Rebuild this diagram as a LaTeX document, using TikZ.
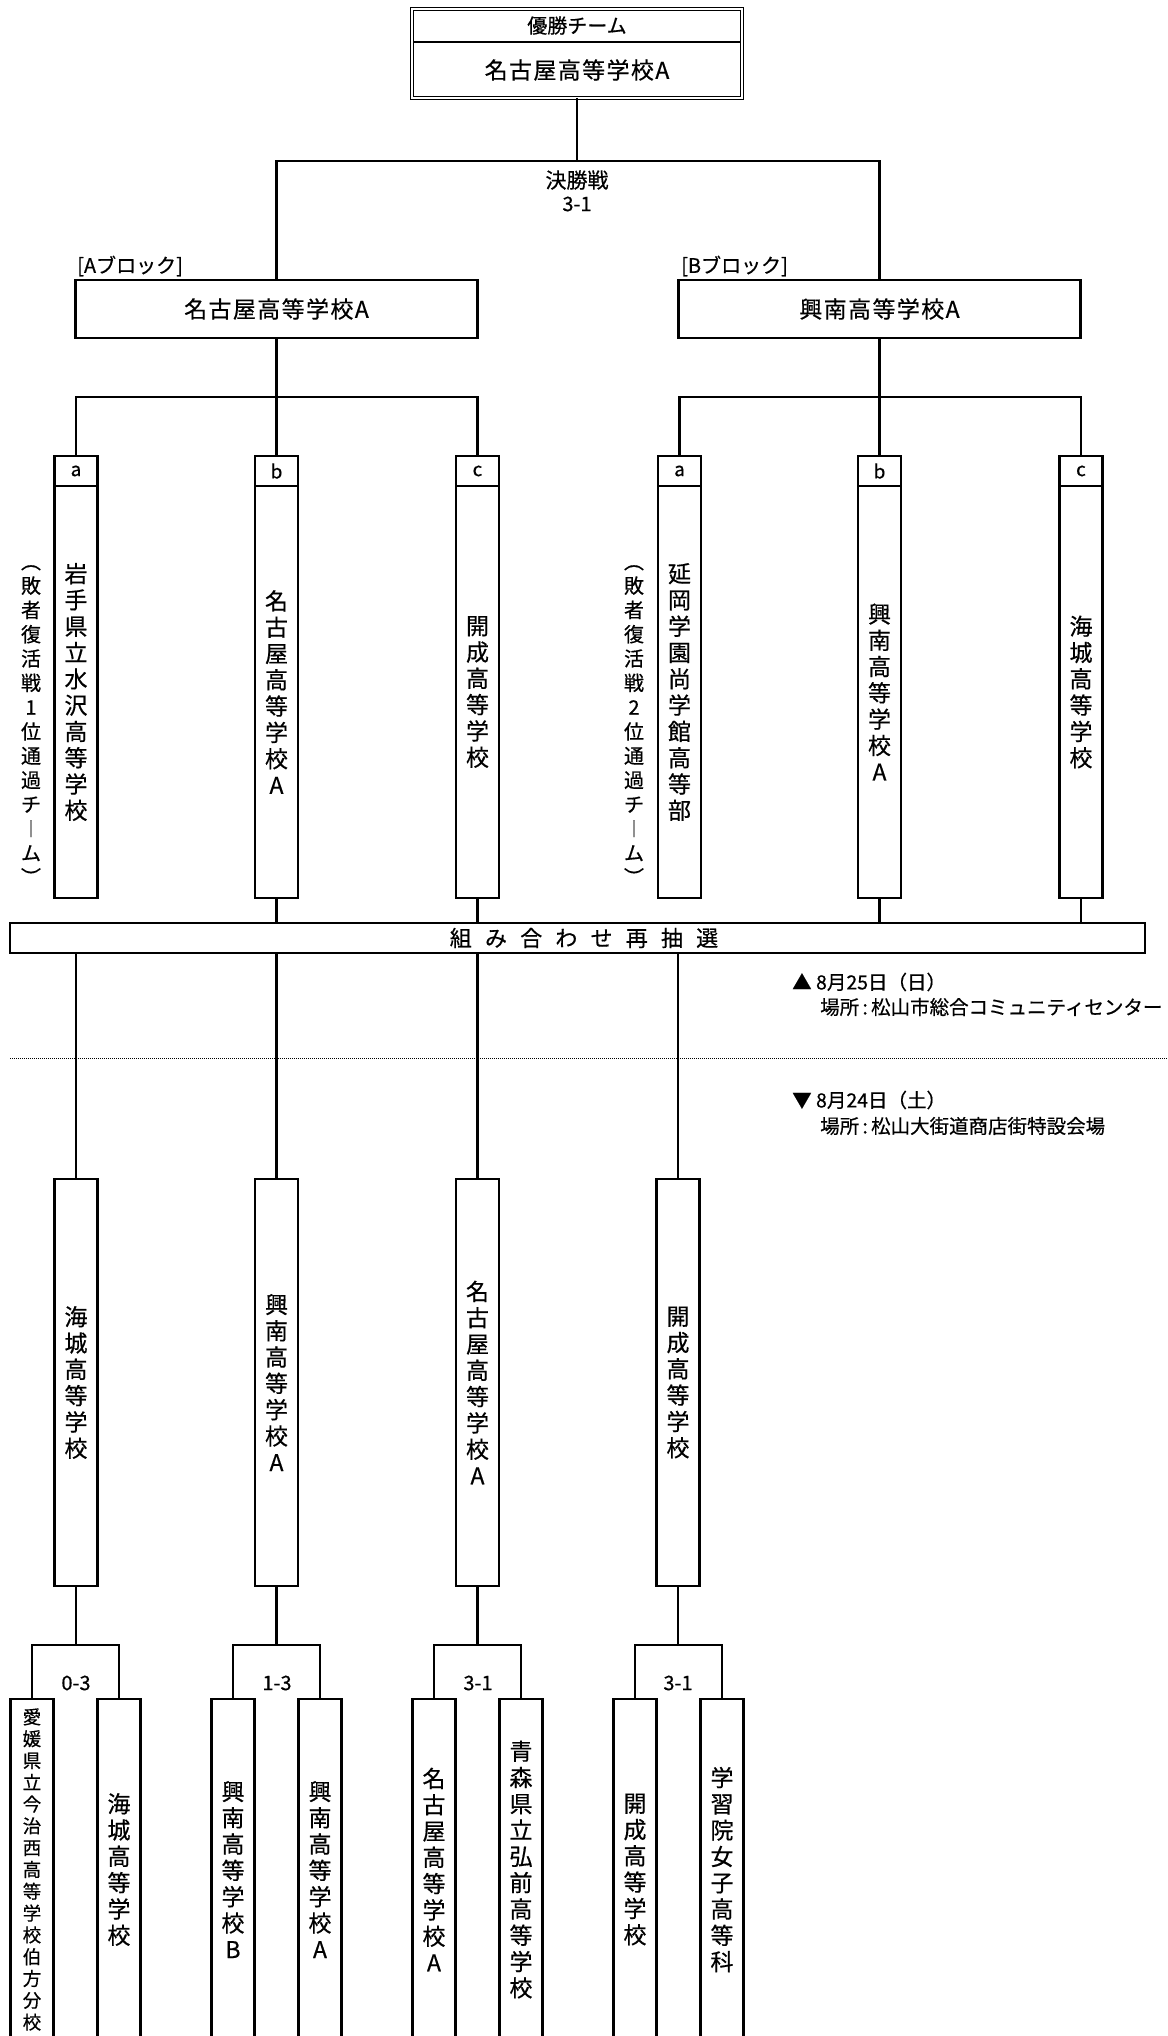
\documentclass[tikz,border=0pt]{standalone}
\usepackage{fontspec}
\setmainfont{Noto Sans CJK JP}[FakeBold=0.5]
\usetikzlibrary{positioning}
\tikzset {
  bracket path/.style = {
    draw = black,
    line width = 2.7pt
  },
  % dotted line between the two days
  day line/.style = {
    draw = black,
    line width = 1pt,
    dash pattern = on 1pt off 1pt
  },
  % double frame of the winner
  champ frame/.style = {
    draw = black,
    line width = 1.4pt,
    double = white,
    double distance = 2pt
  }
}
\tikzset {
  team node/.style = {
    draw = black,
    line width = 2.7pt,
    rectangle,
    inner sep = 0,
    outer sep = 0
  },
  champ head/.style = {
    rectangle,
    inner sep = 0,
    outer sep = 0,
    minimum width = 330pt,
    minimum height = 33pt,
    font = \fontsize{20}{24}\selectfont
  },
  champ name/.style = {
    champ head,
    minimum height = 56pt,
    font = \fontsize{23}{27}\selectfont\addfontfeature{LetterSpace=6}
  },
  % block winner
  block box/.style = {
    team node,
    minimum width = 402pt,
    minimum height = 58pt,
    font = \fontsize{23}{27}\selectfont\addfontfeature{LetterSpace=6}
  },
  % small letter on top of a column
  tag box/.style = {
    team node,
    minimum width = 43pt,
    minimum height = 30pt,
    font = \fontsize{19}{22}\selectfont
  },
  % tall box, name set top to bottom
  team col/.style = {
    team node,
    minimum width = 43pt,
    align = center,
    font = \fontsize{23}{26.3}\selectfont
  },
  caption text/.style = {
    inner sep = 0,
    font = \fontsize{20}{24}\selectfont
  },
  score text/.style = {
    inner sep = 0,
    font = \fontsize{20}{24}\selectfont
  },
  note text/.style = {
    inner sep = 0,
    align = center,
    font = \fontsize{20}{24.3}\selectfont
  },
  date text/.style = {
    inner sep = 0,
    anchor = west,
    font = \fontsize{19.5}{24}\selectfont
  }
}
\begin{document}
\begin{tikzpicture}[x=1pt, y=-1pt]
    \useasboundingbox (0,0) rectangle (1167,2036);
    \fill[white] (0,0) rectangle (1167,2036);
    \clip (0,0) rectangle (1167,2036);

    % final
    \node[champ head] (champ-head) at (577, 25.5) {優勝チーム};
    \node[champ name] (champ) at (577, 70) {名古屋高等学校A};
    \draw[champ frame] (champ-head.north west) rectangle (champ.south east);
    \draw[bracket path, line width = 2.4pt, shorten <= 1pt, shorten >= 1pt]
      (champ-head.south west) -- (champ-head.south east);
    \coordinate (final) at (577, 161);
    \node[score text, font = \fontsize{21}{24}\selectfont] (final-title) at (577, 180) {決勝戦};
    \node[score text] (final-score) at (577, 204) {3-1};

    \node[block box] (block-a) at (276.5, 309) {名古屋高等学校A};
    \node[block box] (block-b) at (879.5, 309) {興南高等学校A};
    \node[caption text, anchor = west] (block-a-label) at (77, 266) {[Aブロック]};
    \node[caption text, anchor = west] (block-b-label) at (681, 266) {[Bブロック]};

    \draw[bracket path] (champ) -- (final);
    \draw[bracket path] (block-a) |- (final) -| (block-b);

    % A block
    \coordinate (split-a) at (276.5, 397);
    \node[tag box] (a-tag-a) at (76, 471) {a};
    \node[tag box] (a-tag-b) at (276.5, 471) {b};
    \node[tag box] (a-tag-c) at (477.5, 471) {c};
    \node[team col, minimum height = 412pt] (a-col-a) [below=0pt of a-tag-a]
      {岩\\手\\県\\立\\水\\沢\\高\\等\\学\\校};
    \node[team col, minimum height = 412pt] (a-col-b) [below=0pt of a-tag-b]
      {名\\古\\屋\\高\\等\\学\\校\\A};
    \node[team col, minimum height = 412pt] (a-col-c) [below=0pt of a-tag-c]
      {開\\成\\高\\等\\学\\校};
    \node[note text] (a-note) at (31, 725)
      {︵\\敗\\者\\復\\活\\戦\\1\\位\\通\\過\\チ\\︱\\ム\\︶};
    \draw[bracket path] (block-a) -- (split-a);
    \draw[bracket path] (a-tag-a) |- (split-a) -| (a-tag-c);
    \draw[bracket path] (split-a) -- (a-tag-b);

    % B block
    \coordinate (split-b) at (879.5, 397);
    \node[tag box] (b-tag-a) at (679.5, 471) {a};
    \node[tag box] (b-tag-b) at (879.5, 471) {b};
    \node[tag box] (b-tag-c) at (1081, 471) {c};
    \node[team col, minimum height = 412pt] (b-col-a) [below=0pt of b-tag-a]
      {延\\岡\\学\\園\\尚\\学\\館\\高\\等\\部};
    \node[team col, minimum height = 412pt] (b-col-b) [below=0pt of b-tag-b]
      {興\\南\\高\\等\\学\\校\\A};
    \node[team col, minimum height = 412pt] (b-col-c) [below=0pt of b-tag-c]
      {海\\城\\高\\等\\学\\校};
    \node[note text] (b-note) at (634, 725)
      {︵\\敗\\者\\復\\活\\戦\\2\\位\\通\\過\\チ\\︱\\ム\\︶};
    \draw[bracket path] (block-b) -- (split-b);
    \draw[bracket path] (b-tag-a) |- (split-b) -| (b-tag-c);
    \draw[bracket path] (split-b) -- (b-tag-b);

    % redraw
    \node[team node, minimum width = 1135pt, minimum height = 30pt,
      font = \fontsize{22}{24}\selectfont\addfontfeature{LetterSpace=60}]
      (redraw) at (577.5, 938) {\hspace*{13pt}組み合わせ再抽選};
    \draw[bracket path] (a-col-b) -- (a-col-b |- redraw.north);
    \draw[bracket path] (a-col-c) -- (a-col-c |- redraw.north);
    \draw[bracket path] (b-col-b) -- (b-col-b |- redraw.north);
    \draw[bracket path] (b-col-c) -- (b-col-c |- redraw.north);

    % days
    \node[date text] (sun-date) at (792, 982) {▲ 8月25日（日）};
    \node[date text] (sun-place) at (820, 1007) {場所\,:\,松山市総合コミュニティセンター};
    \coordinate (day-left) at (10, 1058);
    \coordinate (day-right) at (1167, 1058);
    \draw[day line] (day-left) -- (day-right);
    \node[date text] (sat-date) at (792, 1100) {▼ 8月24日（土）};
    \node[date text] (sat-place) at (820, 1126) {場所\,:\,松山大街道商店街特設会場};

    % second round
    \node[team col, minimum height = 407pt] (r2-1) at (76, 1382.5)
      {海\\城\\高\\等\\学\\校};
    \node[team col, minimum height = 407pt] (r2-2) at (276.5, 1382.5)
      {興\\南\\高\\等\\学\\校\\A};
    \node[team col, minimum height = 407pt] (r2-3) at (477.5, 1382.5)
      {名\\古\\屋\\高\\等\\学\\校\\A};
    \node[team col, minimum height = 407pt] (r2-4) at (678, 1382.5)
      {開\\成\\高\\等\\学\\校};
    \draw[bracket path] (redraw.south -| r2-1) -- (r2-1);
    \draw[bracket path] (redraw.south -| r2-2) -- (r2-2);
    \draw[bracket path] (redraw.south -| r2-3) -- (r2-3);
    \draw[bracket path] (redraw.south -| r2-4) -- (r2-4);

    % first round
    \coordinate [below=59pt of r2-1] (split-1);
    \coordinate [below=59pt of r2-2] (split-2);
    \coordinate [below=59pt of r2-3] (split-3);
    \coordinate [below=59pt of r2-4] (split-4);
    \node[team col, minimum height = 341pt, font = \fontsize{18.5}{21.8}\selectfont]
      (r3-1a) at (32, 1869.5)
      {愛\\媛\\県\\立\\今\\治\\西\\高\\等\\学\\校\\伯\\方\\分\\校};
    \node[team col, minimum height = 341pt] (r3-1b) at (119, 1869.5)
      {海\\城\\高\\等\\学\\校};
    \node[team col, minimum height = 341pt] (r3-2a) at (233, 1869.5)
      {興\\南\\高\\等\\学\\校\\B};
    \node[team col, minimum height = 341pt] (r3-2b) at (320, 1869.5)
      {興\\南\\高\\等\\学\\校\\A};
    \node[team col, minimum height = 341pt] (r3-3a) at (434, 1869.5)
      {名\\古\\屋\\高\\等\\学\\校\\A};
    \node[team col, minimum height = 341pt] (r3-3b) at (521, 1869.5)
      {青\\森\\県\\立\\弘\\前\\高\\等\\学\\校};
    \node[team col, minimum height = 341pt] (r3-4a) at (635, 1869.5)
      {開\\成\\高\\等\\学\\校};
    \node[team col, minimum height = 341pt] (r3-4b) at (722, 1869.5)
      {学\\習\\院\\女\\子\\高\\等\\科};
    \node[score text] (score-1) at (76, 1683) {0-3};
    \node[score text] (score-2) at (277, 1683) {1-3};
    \node[score text] (score-3) at (478, 1683) {3-1};
    \node[score text] (score-4) at (678, 1683) {3-1};

    \draw[bracket path] (r2-1) -- (split-1);
    \draw[bracket path] (r3-1a) |- (split-1) -| (r3-1b);
    \draw[bracket path] (r2-2) -- (split-2);
    \draw[bracket path] (r3-2a) |- (split-2) -| (r3-2b);
    \draw[bracket path] (r2-3) -- (split-3);
    \draw[bracket path] (r3-3a) |- (split-3) -| (r3-3b);
    \draw[bracket path] (r2-4) -- (split-4);
    \draw[bracket path] (r3-4a) |- (split-4) -| (r3-4b);
\end{tikzpicture}
\end{document}
